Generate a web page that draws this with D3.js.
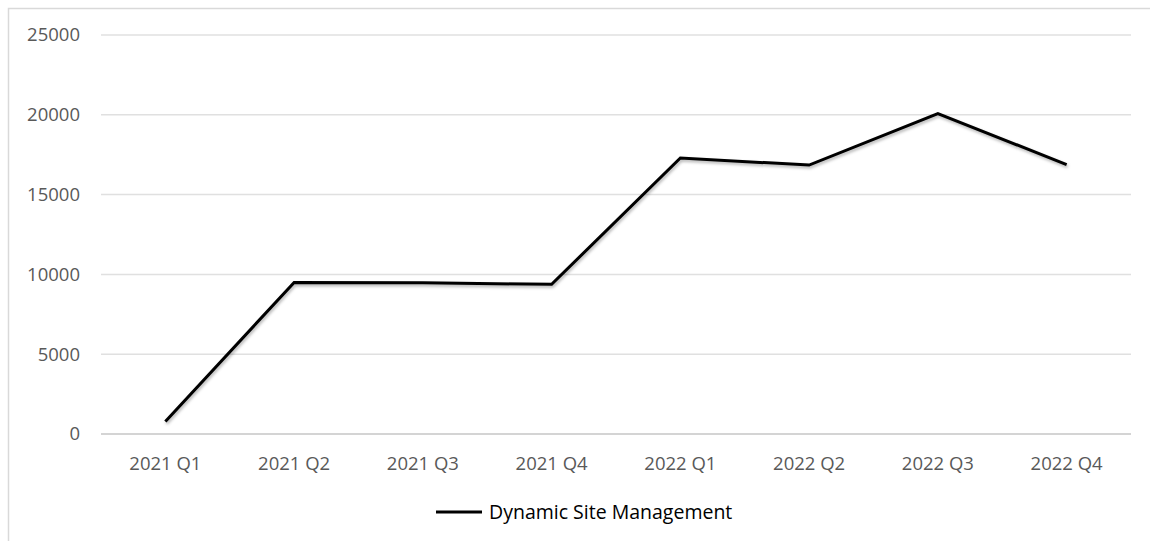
<!DOCTYPE html>
<html>
<head>
<meta charset="utf-8">
<script src="https://cdn.jsdelivr.net/npm/d3@7"></script>
<style>
  body { margin: 0; background: #fff; }
  svg { display: block; font-family: "Open Sans", sans-serif; }
</style>
</head>
<body>
<div id="chart"></div>
<script>
// data
var quarters = ["2021 Q1", "2021 Q2", "2021 Q3", "2021 Q4", "2022 Q1", "2022 Q2", "2022 Q3", "2022 Q4"];
var siteValues = [780, 9500, 9470, 9380, 17290, 16850, 20080, 16880];
var yTicks = [0, 5000, 10000, 15000, 20000, 25000];
var seriesName = "Dynamic Site Management";

var width = 1150, height = 541;
var margin = {top: 35, right: 19, bottom: 107, left: 101};

var svg = d3.select("#chart").append("svg")
    .attr("width", width)
    .attr("height", height);

// drop shadow for the line
var defs = svg.append("defs");
var shadow = defs.append("filter").attr("id", "shadow")
    .attr("x", "-5%").attr("y", "-5%").attr("width", "110%").attr("height", "120%");
shadow.append("feDropShadow")
    .attr("dx", 1).attr("dy", 2).attr("stdDeviation", 1.5)
    .attr("flood-color", "#000").attr("flood-opacity", 0.3);

// outer chart border
svg.append("rect")
    .attr("x", 8.5).attr("y", 8.5)
    .attr("width", width).attr("height", height)
    .attr("fill", "none")
    .attr("stroke", "#d9d9d9")
    .attr("stroke-width", 1.5);

var x = d3.scaleBand()
    .domain(quarters)
    .range([margin.left, width - margin.right])
    .padding(0);

var y = d3.scaleLinear()
    .domain([0, 25000])
    .range([height - margin.bottom, margin.top]);

// gridlines
svg.append("g").selectAll("line").data(yTicks)
  .enter().append("line")
    .attr("x1", margin.left)
    .attr("x2", width - margin.right)
    .attr("y1", function(d) { return y(d); })
    .attr("y2", function(d) { return y(d); })
    .attr("stroke", function(d) { return d === 0 ? "#d4d4d4" : "#e0e0e0"; })
    .attr("stroke-width", function(d) { return d === 0 ? 2 : 1.5; });

// y axis labels
svg.append("g").selectAll("text").data(yTicks)
  .enter().append("text")
    .attr("x", 80)
    .attr("y", function(d) { return y(d); })
    .attr("dy", "0.35em")
    .attr("text-anchor", "end")
    .attr("font-size", "18.5px")
    .attr("fill", "#595959")
    .text(function(d) { return d; });

// x axis labels
svg.append("g").selectAll("text").data(quarters)
  .enter().append("text")
    .attr("x", function(d) { return x(d) + x.bandwidth() / 2; })
    .attr("y", 470)
    .attr("text-anchor", "middle")
    .attr("font-size", "18.5px")
    .attr("fill", "#595959")
    .text(function(d) { return d; });

// series line
var line = d3.line()
    .x(function(d, i) { return x(quarters[i]) + x.bandwidth() / 2; })
    .y(function(d) { return y(d); });

svg.append("path")
    .datum(siteValues)
    .attr("d", line)
    .attr("fill", "none")
    .attr("stroke", "#000")
    .attr("stroke-width", 3)
    .attr("stroke-linejoin", "miter")
    .attr("filter", "url(#shadow)");

// legend
var legend = svg.append("g").attr("transform", "translate(436,512)");
legend.append("line")
    .attr("x1", 0).attr("x2", 46)
    .attr("y1", 0).attr("y2", 0)
    .attr("stroke", "#000")
    .attr("stroke-width", 3);
legend.append("text")
    .attr("x", 53)
    .attr("y", 0)
    .attr("dy", "0.35em")
    .attr("font-size", "19.5px")
    .attr("fill", "#000")
    .text(seriesName);
</script>
</body>
</html>
